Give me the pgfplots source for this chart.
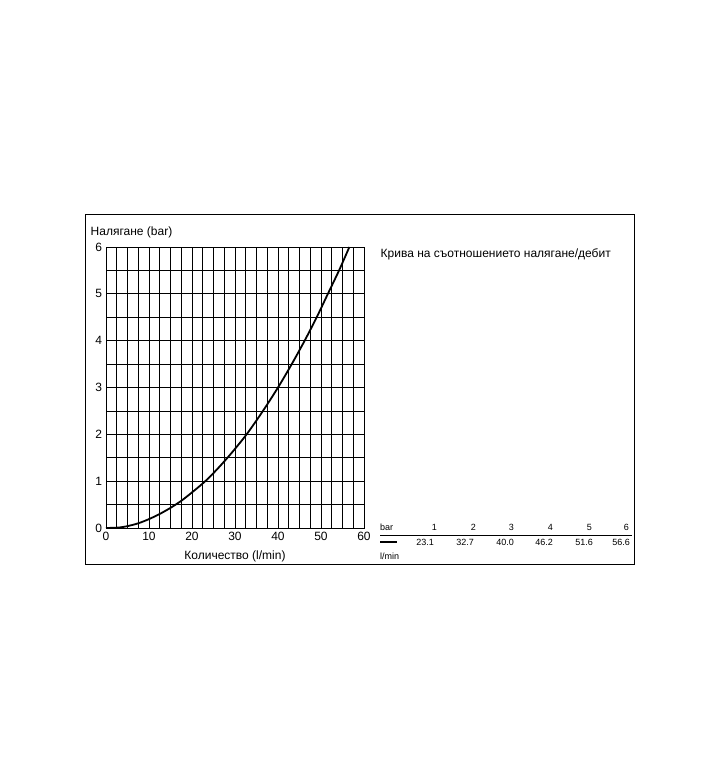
\documentclass[border=0pt]{standalone}
\usepackage{pgfplots}
\pgfplotsset{compat=1.18}
\usepackage{fontspec}
\setmainfont{Liberation Sans}
\begin{document}
\begin{tikzpicture}
\fill[white] (0,0) rectangle (720pt,780pt);
\draw[black,line width=0.8pt] (85.5pt,216pt) rectangle (634pt,566pt);
\begin{axis}[
  at={(106pt,252pt)}, anchor=south west,
  scale only axis, width=258pt, height=281pt,
  xmin=0, xmax=60, ymin=0, ymax=6,
  xtick={0,10,...,60}, ytick={0,1,...,6},
  minor xtick={2.5,5,...,57.5}, minor ytick={0.5,1.5,...,5.5},
  grid=both,
  major grid style={black,line width=0.8pt},
  minor grid style={black,line width=0.8pt},
  axis line style={black,line width=0.8pt},
  major tick length=0pt, minor tick length=0pt,
  tick label style={font=\fontsize{12}{14}\selectfont},
  /pgf/number format/assume math mode=true,
  xticklabel style={yshift=-1pt},
  yticklabel style={xshift=-0.5pt},
  clip=false,
]
\addplot[black,line width=1.8pt,smooth] coordinates {
(0,0) (3,0.01) (5,0.04) (7.5,0.1) (10,0.19) (12.5,0.3) (15,0.43) (17.5,0.58)
(20,0.76) (23.1,1) (26,1.27) (29,1.58) (32.7,2) (36.5,2.5) (40,3)
(43.2,3.5) (46.2,4) (49,4.5) (51.6,5) (54.2,5.5) (56.6,6)
};
\end{axis}
\node[anchor=west,inner sep=0pt,font=\fontsize{12}{14}\selectfont] at (90.5pt,548pt) {Налягане (bar)};
\node[anchor=center,inner sep=0pt,font=\fontsize{12}{14}\selectfont] at (235pt,224pt) {Количество (l/min)};
\node[anchor=west,inner sep=0pt,font=\fontsize{12}{14}\selectfont] at (380.5pt,526pt) {Крива на съотношението налягане/дебит};
% legend table
\begin{scope}[every node/.style={inner sep=0pt,font=\fontsize{9}{11}\selectfont}]
\node[anchor=base west] at (380pt,249pt) {bar};
\foreach \xx/\v in {437/1,476/2,514/3,553/4,592/5,629/6} {\node[anchor=base east] at (\xx pt,249pt) {\v};}
\draw[black,line width=0.9pt] (380pt,245pt) -- (632pt,245pt);
\draw[black,line width=2.2pt] (380pt,238pt) -- (397pt,238pt);
\foreach \xx/\v in {434/23.1,474/32.7,514/40.0,553/46.2,593/51.6,630/56.6} {\node[anchor=base east] at (\xx pt,234pt) {\v};}
\node[anchor=base west] at (380pt,220pt) {l/min};
\end{scope}
\end{tikzpicture}
\end{document}
